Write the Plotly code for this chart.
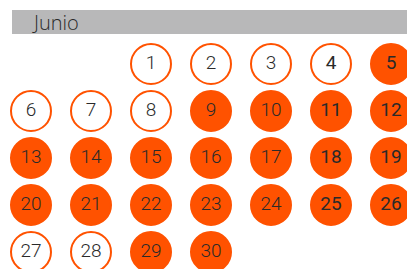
import plotly.graph_objects as go

month_title = "Junio"
days = list(range(1, 31))
first_weekday = 2  # June 1 falls on Wednesday (Mon=0)
filled_days = [5] + list(range(9, 27)) + [29, 30]
weekend_cols = [5, 6]

ORANGE = "#ff5200"
TEXT = "#2a2a2a"
W, H = 407, 269

cols = [(first_weekday + d - 1) % 7 for d in days]
rows = [(first_weekday + d - 1) // 7 for d in days]

fig = go.Figure()
for filled in (False, True):
    for wk in (False, True):
        sel = [i for i, d in enumerate(days)
               if (d in filled_days) == filled and (cols[i] in weekend_cols) == wk]
        if not sel:
            continue
        fig.add_trace(go.Scatter(
            x=[cols[i] for i in sel],
            y=[rows[i] for i in sel],
            text=[str(days[i]) for i in sel],
            mode="markers+text",
            textposition="middle center",
            textfont=dict(family="Roboto", size=19, color=TEXT, weight=400 if wk else 300),
            marker=dict(size=40, color=ORANGE if filled else "white",
                        line=dict(color=ORANGE, width=2)),
            hoverinfo="skip", showlegend=False, cliponaxis=False,
        ))

fig.add_shape(type="rect", xref="paper", yref="paper",
              x0=12 / W, x1=1, y0=1 - 34 / H, y1=1 - 10 / H,
              fillcolor="#b8b8b9", line=dict(width=0), layer="below")
fig.add_annotation(xref="paper", yref="paper", x=30 / W, y=1 - 23 / H,
                   xanchor="left", yanchor="middle", showarrow=False,
                   text=month_title,
                   font=dict(family="Open Sans", size=20, color=TEXT, weight=300))

fig.update_layout(
    width=W, height=H, margin=dict(l=0, r=0, t=0, b=0),
    paper_bgcolor="white", plot_bgcolor="white",
    xaxis=dict(range=[-31 / 60, (W - 31) / 60], visible=False, fixedrange=True),
    yaxis=dict(range=[(H - 64) / 47, -64 / 47], visible=False, fixedrange=True),
)
fig.write_html("out.html", config={"displayModeBar": False},
               post_script="document.body.style.margin='0';")
